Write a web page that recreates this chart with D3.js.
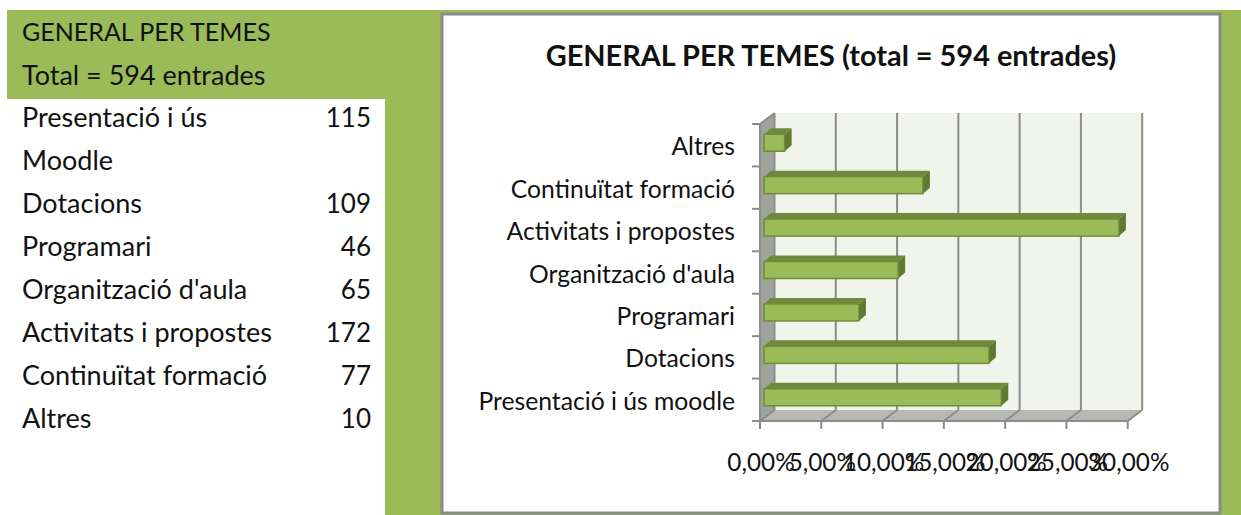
<!DOCTYPE html>
<html><head><meta charset="utf-8">
<script src="https://cdn.jsdelivr.net/npm/d3@7"></script>
<style>html,body{margin:0;padding:0;background:#fff}svg{display:block}text{font-family:Lato,"Open Sans",sans-serif;fill:#111}</style>
</head><body><svg id="c" width="1241" height="515"></svg>
<script>
const categories=["Presentació i ús moodle","Dotacions","Programari","Organització d'aula","Activitats i propostes","Continuïtat formació","Altres"];
const counts=[115,109,46,65,172,77,10];
const total=594;
const tableLabels=[["Presentació i ús","Moodle"],["Dotacions"],["Programari"],["Organització d'aula"],["Activitats i propostes"],["Continuïtat formació"],["Altres"]];
const xTicks=[0,5,10,15,20,25,30];
const title="GENERAL PER TEMES (total = 594 entrades)";
const headLines=["GENERAL PER TEMES","Total = 594 entrades"];

const svg=d3.select("#c");
const green="#9bbb59",dark="#6f8a3c",darker="#5f7a30",grid="#8c8c8c";
const rect=(x,y,w,h,f)=>svg.append("rect").attr("x",x).attr("y",y).attr("width",w).attr("height",h).attr("fill",f);
rect(385,10,856,505,green);
rect(7,10,378,89,green);
rect(442,14,778,499,"#fff").attr("stroke","#8a8a8a").attr("stroke-width",3);

// table
const T=svg.append("g").attr("font-size",27);
const lh=43.1;
headLines.forEach((t,i)=>T.append("text").attr("x",22).attr("y",41+i*lh+(i?0.5:0)).attr("font-size",i?27:25).text(t));
let row=0;
tableLabels.forEach((lines,i)=>{
  lines.forEach((t,j)=>T.append("text").attr("x",22).attr("y",126.6+(row+j)*lh).text(t));
  T.append("text").attr("x",371).attr("y",126.6+row*lh).attr("text-anchor","end").attr("font-size",26).text(counts[i]);
  row+=lines.length;
});

svg.append("text").attr("x",831).attr("y",66).attr("text-anchor","middle").attr("font-size",28.9).attr("font-weight",700).text(title);

// 3D chart
const x=d3.scaleLinear().domain([0,30]).range([760,1127.7]);
const y=d3.scaleBand().domain(categories).range([421,124]);
const dx=14.5,dy=-11;
const yTop=124,yBot=421;
const poly=(pts,f)=>svg.append("polygon").attr("points",pts.map(p=>p.join(",")).join(" ")).attr("fill",f);
poly([[x(0)+dx,yTop+dy],[x(30)+dx,yTop+dy],[x(30)+dx,yBot+dy],[x(0)+dx,yBot+dy]],"#f1f4ea");
poly([[x(0),yTop],[x(0)+dx,yTop+dy],[x(0)+dx,yBot+dy],[x(0),yBot]],"#a0a29c");
poly([[x(0),yBot],[x(0)+dx,yBot+dy],[x(30)+dx,yBot+dy],[x(30),yBot]],"#b6b8b1");
const line=(a,b,c,d,w=2)=>svg.append("line").attr("x1",a).attr("y1",b).attr("x2",c).attr("y2",d).attr("stroke",grid).attr("stroke-width",w);
xTicks.forEach(t=>{
  const X=x(t);
  line(X+dx,yTop+dy,X+dx,yBot+dy);
  line(X,yBot,X+dx,yBot+dy);
  line(X,yBot,X,yBot+8);
});
line(x(0),yBot,x(30),yBot);
line(x(0),yTop,x(0),yBot);
line(x(0),yTop,x(0)+dx,yTop+dy);
d3.range(8).forEach(i=>{const Y=yBot-i*y.step();line(752,Y,x(0),Y);});

// bars
const w=v=>x(v/total*100)-x(0);
const bx=x(0)+4,bh=17,ox=7,oy=-6;
categories.forEach((c,i)=>{
  const by=y(c)+y.step()/2-11;
  const W=w(counts[i]);
  poly([[bx,by],[bx+ox,by+oy],[bx+W+ox,by+oy],[bx+W,by]],dark);
  poly([[bx+W,by],[bx+W+ox,by+oy],[bx+W+ox,by+bh+oy],[bx+W,by+bh]],darker);
  rect(bx,by,W,bh,green).attr("stroke",dark).attr("stroke-width",1.5);
  svg.append("text").attr("x",735).attr("y",y(c)+y.step()/2+10).attr("text-anchor","end").attr("font-size",24.7).text(c);
});
xTicks.forEach(t=>svg.append("text").attr("x",x(t)+1).attr("y",471).attr("text-anchor","middle").attr("font-size",24.3).text(t.toFixed(2).replace(".",",")+"%"));
</script></body></html>
